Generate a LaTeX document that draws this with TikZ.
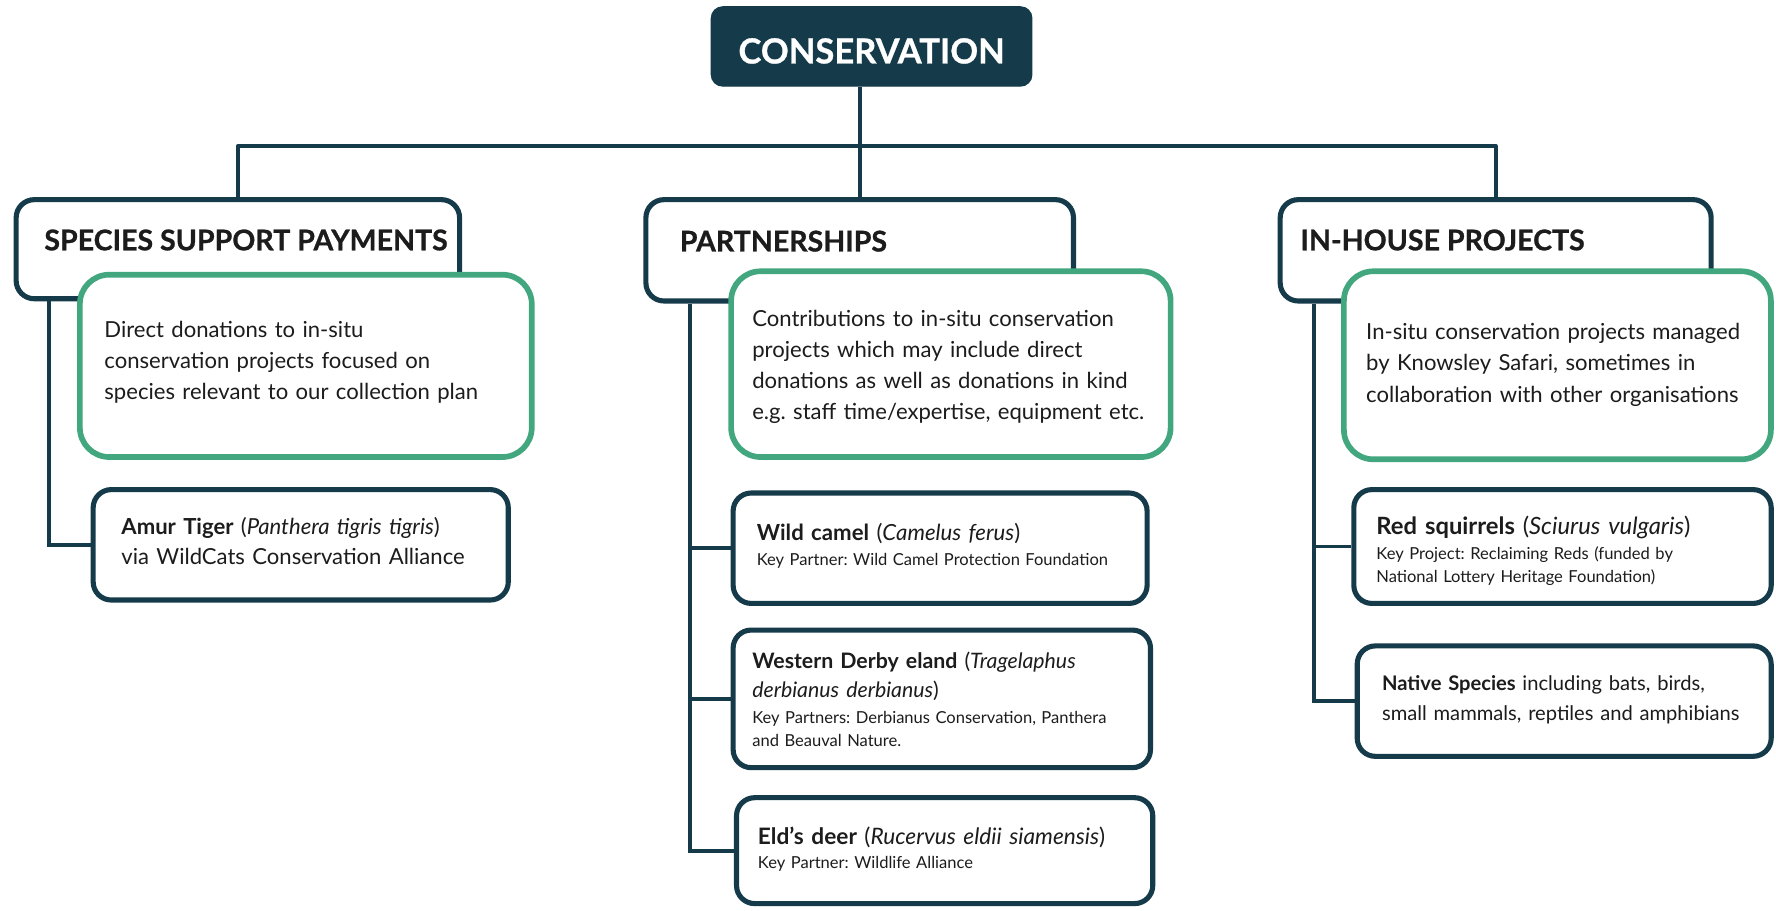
\documentclass[tikz,border=0pt]{standalone}
\usepackage{fontspec}
\setmainfont{Lato}
\newfontfamily\heavyfont[FakeBold=0.8]{Lato}
\usetikzlibrary{calc}
\definecolor{navy}{HTML}{153B4B}
\definecolor{leafgreen}{HTML}{42A67F}
\definecolor{ink}{HTML}{1C1C1C}
\pgfdeclarelayer{bg}
\pgfsetlayers{bg,main}
\frenchspacing
\begin{document}
\begin{tikzpicture}[x=1pt,y=-1pt,
  rootbox/.style={fill=navy, draw=navy, line width=1pt, rounded corners=10pt, inner sep=0pt},
  headbox/.style={draw=navy, line width=4.5pt, fill=white, rounded corners=16pt, inner sep=0pt},
  notebox/.style={draw=leafgreen, line width=5pt, fill=white, rounded corners=26pt, inner sep=0pt},
  itembox/.style={draw=navy, line width=4.5pt, fill=white, rounded corners=16pt, inner sep=0pt},
  link/.style={draw=navy, line width=3.5pt},
  txt/.style={inner sep=0pt, anchor=base west, text width=420pt, align=left, text=ink},
  roottxt/.style={inner sep=0pt, anchor=base, text=white, font=\heavyfont\fontsize{30.5}{32}\selectfont\bfseries},
  headtxt/.style={inner sep=0pt, anchor=base west, text=ink, font=\heavyfont\fontsize{25.2}{28}\selectfont\bfseries},
  bodytxt/.style={txt, font=\fontsize{19.5}{27.5}\selectfont},
  titletxt/.style={txt, font=\fontsize{#1}{26}\selectfont},
  smalltxt/.style={txt, font=\fontsize{14.6}{20}\selectfont}
]
\useasboundingbox (0,0) rectangle (1568,804);

% root
\node[rootbox, minimum width=283pt, minimum height=70pt] (cons) at (769.5,41) {};
\node[roottxt] (cons-t) at (769.5,56) {CONSERVATION};

% branch headers
\node[headbox, minimum width=391.5pt, minimum height=87.5pt] (ssp) at (210,220) {};
\node[headbox, minimum width=377.5pt, minimum height=89.5pt] (part) at (759,221) {};
\node[headbox, minimum width=380.5pt, minimum height=89.5pt] (inh) at (1320.5,221) {};
\node[headtxt] (ssp-t) at (39,221) {SPECIES SUPPORT PAYMENTS};
\node[headtxt] (part-t) at (600,222) {PARTNERSHIPS};
\node[headtxt] (inh-t) at (1148,221) {IN-HOUSE PROJECTS};

% description panels
\node[notebox, minimum width=399pt, minimum height=161pt] (g1) at (270,323) {};
\node[notebox, minimum width=388pt, minimum height=164pt] (g2) at (839.5,321.5) {};
\node[notebox, minimum width=377pt, minimum height=166pt] (g3) at (1375,322.5) {};
\node[bodytxt] (g1-t) at (92,298) {Direct donations to in-situ\\conservation projects focused on\\species relevant to our collection plan};
\node[bodytxt] (g2-t) at (664,288) {Contributions to in-situ conservation\\projects which may include direct\\donations as well as donations in kind\\e.g. staff time/expertise, equipment etc.};
\node[bodytxt] (g3-t) at (1206,300) {In-situ conservation projects managed\\by Knowsley Safari, sometimes in\\collaboration with other organisations};

% items
\node[itembox, minimum width=366.5pt, minimum height=97.5pt] (amur) at (265.5,481) {};
\node[itembox, minimum width=365.5pt, minimum height=97.5pt] (camel) at (830,484) {};
\node[itembox, minimum width=368.5pt, minimum height=121.5pt] (eland) at (831.5,617) {};
\node[itembox, minimum width=367.5pt, minimum height=93.5pt] (eld) at (834,751) {};
\node[itembox, minimum width=368.5pt, minimum height=100.5pt] (red) at (1379.5,482.5) {};
\node[itembox, minimum width=365.5pt, minimum height=97.5pt] (native) at (1381,619) {};

\node[titletxt=19.5] (amur-t) at (107,472) {\textbf{Amur Tiger} (\textit{Panthera tigris tigris})\\via WildCats Conservation Alliance};
\node[titletxt=19.6] (camel-t) at (668,477) {\textbf{Wild camel} (\textit{Camelus ferus})};
\node[smalltxt] (camel-s) at (668,499) {Key Partner: Wild Camel Protection Foundation};
\node[titletxt=18.8] (eland-t) at (664,590) {\textbf{Western Derby eland} (\textit{Tragelaphus}\\\textit{derbianus derbianus})};
\node[smalltxt] (eland-s) at (664,639) {Key Partners: Derbianus Conservation, Panthera\\and Beauval Nature.};
\node[titletxt=20] (eld-t) at (669,746) {\textbf{Eld’s deer} (\textit{Rucervus eldii siamensis})};
\node[smalltxt] (eld-s) at (669,767) {Key Partner: Wildlife Alliance};
\node[titletxt=21] (red-t) at (1215,472) {\textbf{Red squirrels} (\textit{Sciurus vulgaris})};
\node[smalltxt] (red-s) at (1215,494) {Key Project: Reclaiming Reds (funded by\\National Lottery Heritage Foundation)};
\node[titletxt=17.8] (native-t) at (1220,610) {\textbf{Native Species} including bats, birds,\\small mammals, reptiles and amphibians};

% connectors
\coordinate (bus) at (0,129);
\coordinate (ssp-trunk) at ([xshift=31pt]ssp.south west);
\coordinate (part-trunk) at ([xshift=41pt]part.south west);
\coordinate (inh-trunk) at ([xshift=32pt]inh.south west);
\begin{pgfonlayer}{bg}
  \draw[link] (cons.south -| part.north) -- (part.north);
  \draw[link, line join=round] (ssp.north) -- (ssp.north |- bus) -- (inh.north |- bus) -- (inh.north);
  \draw[link] (ssp-trunk) |- (amur.west);
  \draw[link] (part-trunk) |- (eld.west);
  \draw[link] (camel.west) -- (camel.west -| part-trunk);
  \draw[link] (eland.west) -- (eland.west -| part-trunk);
  \draw[link] (inh-trunk) |- (native.west);
  \draw[link] (red.west) -- (red.west -| inh-trunk);
\end{pgfonlayer}
\end{tikzpicture}
\end{document}
